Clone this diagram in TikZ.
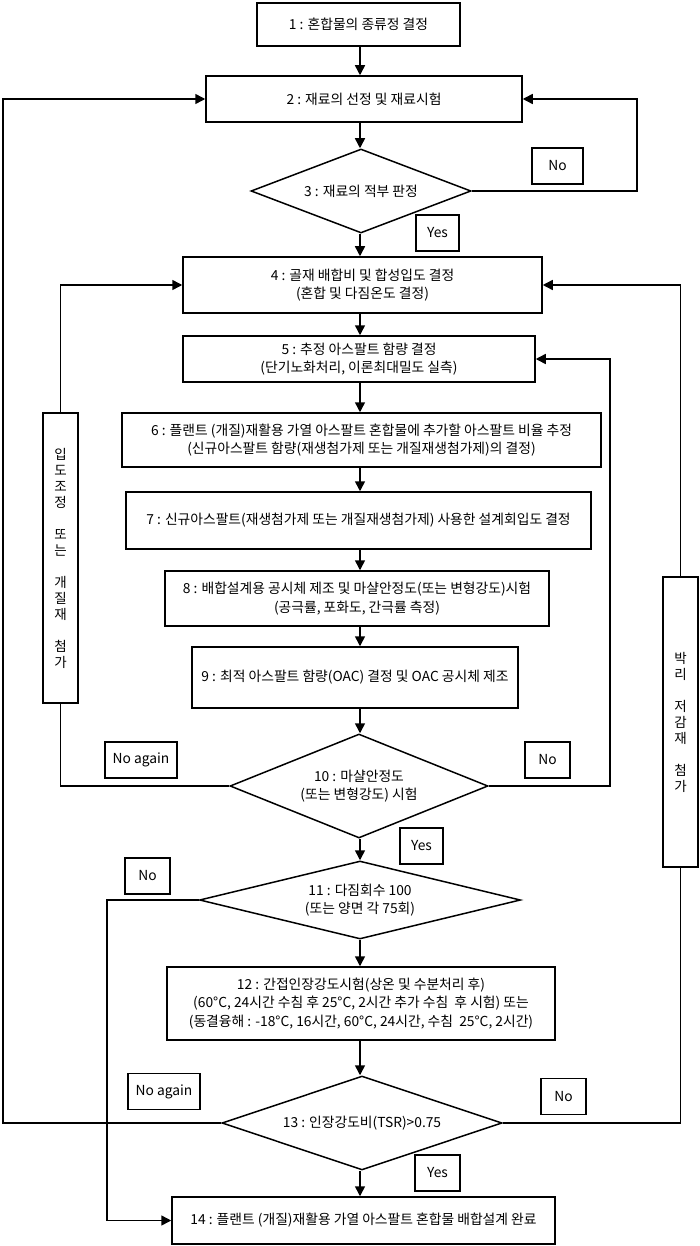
\documentclass[tikz,border=0pt]{standalone}
\usepackage{fontspec}
\setmainfont{Noto Sans CJK KR}
\usepackage{tikz}
\usetikzlibrary{arrows.meta,shapes.geometric}

\begin{document}
\begin{tikzpicture}[x=1pt,y=-1pt,font=\fontsize{13.8pt}{18.5pt}\selectfont]
\tikzstyle{every path}=[line width=1.5pt]

\tikzstyle{procbox}=[draw,align=center,inner sep=2pt]
\tikzstyle{decbox}=[draw,diamond,align=center,inner sep=0pt,aspect=3]
\tikzstyle{tagbox}=[draw,minimum height=36pt,inner sep=0pt]
\tikzstyle{sidebox}=[draw,align=center,minimum width=35pt,minimum height=290pt,
  inner sep=0pt,font=\fontsize{13.5pt}{16pt}\selectfont]
\tikzstyle{flow}=[-{Triangle[length=10pt,width=10pt]}]

\useasboundingbox (0,0) rectangle (699,1246);
\coordinate (mid) at (360,0);

%% Main steps
\node [procbox,minimum width=203pt,minimum height=43pt] (s1) at (358.5,24.5)
  {1 : 혼합물의 종류정 결정};
\node [procbox,minimum width=316pt,minimum height=46pt] (s2) at (364,99)
  {2 : 재료의 선정 및 재료시험};
\node [decbox,minimum width=220pt,minimum height=84pt] (d3) at (361,191)
  {3 : 재료의 적부 판정};
\node [procbox,minimum width=359pt,minimum height=56pt] (s4) at (362.5,285)
  {4 : 골재 배합비 및 합성입도 결정\\(혼합 및 다짐온도 결정)};
\node [procbox,minimum width=352pt,minimum height=46pt] (s5) at (359,359)
  {5 : 추정 아스팔트 함량 결정\\(단기노화처리, 이론최대밀도 실측)};
\node [procbox,minimum width=479pt,minimum height=54pt] (s6) at (361.5,440)
  {6 : 플랜트 (개질)재활용 가열 아스팔트 혼합물에 추가할 아스팔트 비율 추정\\
   (신규아스팔트 함량(재생첨가제 또는 개질재생첨가제)의 결정)};
\node [procbox,minimum width=465pt,minimum height=57pt] (s7) at (358.5,520.5)
  {7 : 신규아스팔트(재생첨가제 또는 개질재생첨가제) 사용한 설계회입도 결정};
\node [procbox,minimum width=384pt,minimum height=55pt] (s8) at (357,598.5)
  {8 : 배합설계용 공시체 제조 및 마샬안정도(또는 변형강도)시험\\
   (공극률, 포화도, 간극률 측정)};
\node [procbox,minimum width=326pt,minimum height=61pt] (s9) at (355,677.5)
  {9 : 최적 아스팔트 함량(OAC) 결정 및 OAC 공시체 제조};
\node [decbox,aspect=2.5,minimum width=258pt,minimum height=104pt] (d10) at (359,786)
  {10 : 마샬안정도\\(또는 변형강도) 시험};
\node [decbox,aspect=4,minimum width=321pt,minimum height=78pt] (d11) at (360,900)
  {11 : 다짐회수 100\\(또는 양면 각 75회)};
\node [procbox,minimum width=388pt,minimum height=73pt] (s12) at (361,1003.5)
  {12 : 간접인장강도시험(상온 및 수분처리 후)\\
   (60°C, 24시간 수침 후 25°C, 2시간 추가 수침\ \ 후 시험) 또는\\
   (동결융해 : -18°C, 16시간, 60°C, 24시간, 수침\ \ 25°C, 2시간)};
\node [decbox,minimum width=280pt,minimum height=94pt] (d13) at (362,1123)
  {13 : 인장강도비(TSR)>0.75};
\node [procbox,minimum width=383pt,minimum height=47pt] (s14) at (363.5,1220.5)
  {14 : 플랜트 (개질)재활용 가열 아스팔트 혼합물 배합설계 완료};

%% Side boxes
\node [sidebox] (sideL) at (60.5,558)
  {입\\도\\조\\정\\[16pt]또\\는\\[16pt]개\\질\\재\\[16pt]첨\\가};
\node [sidebox] (sideR) at (680.5,722)
  {박\\리\\[16pt]저\\감\\재\\[16pt]첨\\가};

%% Answer tags
\node [tagbox,minimum width=51pt] (no3) at (557.5,166) {No};
\node [tagbox,minimum width=43pt] (yes3) at (437.5,233) {Yes};
\node [tagbox,minimum width=72pt] (again10) at (141,760) {No again};
\node [tagbox,minimum width=45pt] (no10) at (547.5,760) {No};
\node [tagbox,minimum width=43pt] (yes10) at (421.5,846) {Yes};
\node [tagbox,minimum width=45pt] (no11) at (147.5,876) {No};
\node [tagbox,minimum width=72pt] (again13) at (164,1091.5) {No again};
\node [tagbox,minimum width=45pt] (no13) at (563.5,1096.5) {No};
\node [tagbox,minimum width=45pt] (yes13) at (437.5,1173) {Yes};

%% Main flow
\foreach \a/\b in {s1/s2,s2/d3,d3/s4,s4/s5,s5/s6,s6/s7,s7/s8,s8/s9,
                   s9/d10,d10/d11,d11/s12,s12/d13,d13/s14}
    \draw [flow] (\a.south -| mid) -- (\b.north -| mid);

%% Loops back
\coordinate (r3) at (637,191);
\draw [flow] (d3.east) -- (r3) |- (s2.east);

\coordinate (l13) at (3,1123);
\draw [flow] (d13.west) -- (l13) |- (s2.west);

\draw (d10.west) -| (sideL.south);
\draw [flow] (sideL.north) |- (s4.west);

\coordinate (r10) at (610,786);
\draw [flow] (d10.east) -- (r10) |- (s5.east);

\draw (d13.east) -| (sideR.south);
\draw [flow] (sideR.north) |- (s4.east);

\coordinate (l11) at (107,900);
\draw [flow] (d11.west) -- (l11) |- (s14.west);

\end{tikzpicture}
\end{document}
